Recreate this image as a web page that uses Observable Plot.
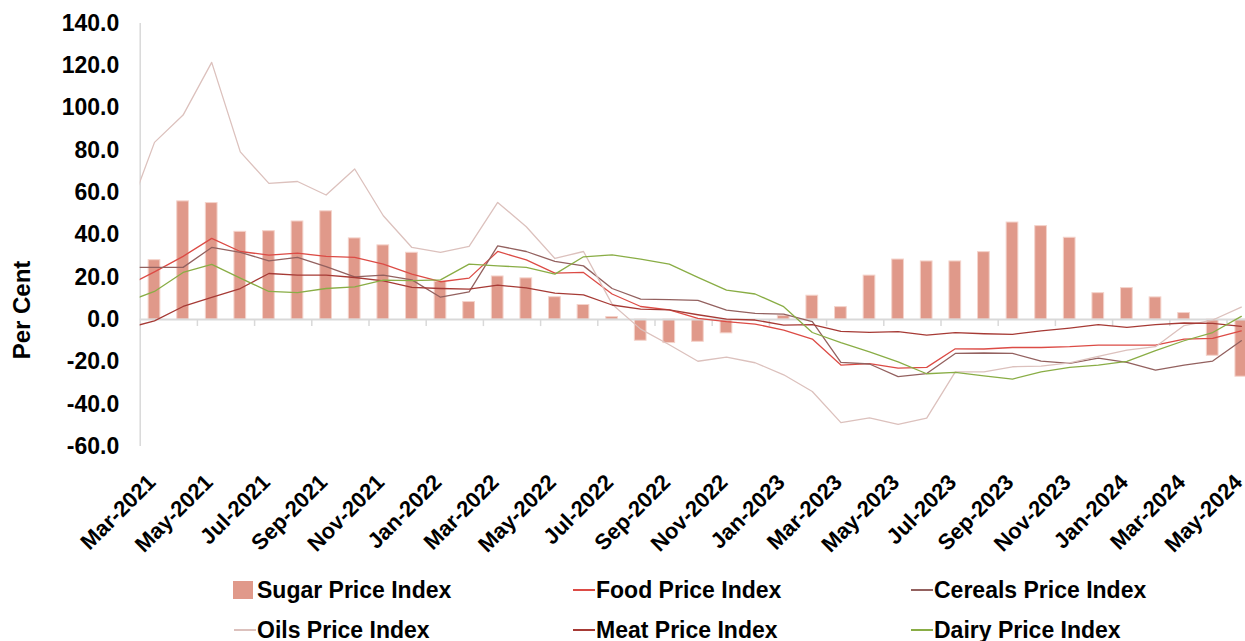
<!DOCTYPE html>
<html><head><meta charset="utf-8">
<script src="https://cdn.jsdelivr.net/npm/d3@7"></script>
<script src="https://cdn.jsdelivr.net/npm/@observablehq/plot@0.6"></script>
<style>
html,body{margin:0;padding:0;background:#fff;overflow:hidden}
#wrap{position:relative;width:1245px;height:641px;font-family:"Liberation Sans",Arial,sans-serif;font-weight:bold;color:#000}
#chart{position:absolute;left:0;top:0}
.lg{position:absolute;font-size:23px;line-height:26px;white-space:nowrap}
.sw{position:absolute}
#ytitle{position:absolute;font-size:24px;white-space:nowrap;transform:translate(-50%,-50%) rotate(-90deg)}
</style></head><body>
<div id="wrap"><div id="chart"></div>
<div id="ytitle" style="left:22px;top:310px">Per Cent</div>
<div id="legend"></div>
</div>
<script>
const months = ["Feb-2021","Mar-2021","Apr-2021","May-2021","Jun-2021","Jul-2021","Aug-2021","Sep-2021","Oct-2021","Nov-2021","Dec-2021","Jan-2022","Feb-2022","Mar-2022","Apr-2022","May-2022","Jun-2022","Jul-2022","Aug-2022","Sep-2022","Oct-2022","Nov-2022","Dec-2022","Jan-2023","Feb-2023","Mar-2023","Apr-2023","May-2023","Jun-2023","Jul-2023","Aug-2023","Sep-2023","Oct-2023","Nov-2023","Dec-2023","Jan-2024","Feb-2024","Mar-2024","Apr-2024","May-2024"];
const sugar = [null, 28.1, 55.9, 55.1, 41.5, 41.8, 46.4, 51.2, 38.4, 35.1, 31.6, 17.9, 8.3, 20.4, 19.5, 10.6, 6.9, 1.2, -10.0, -11.1, -10.5, -6.5, 0.0, 1.8, 11.3, 5.9, 20.8, 28.4, 27.5, 27.5, 31.9, 45.9, 44.2, 38.7, 12.5, 14.9, 10.5, 3.1, -17.1, -27.0];
const food = [15.6, 22.6, 29.9, 38.4, 32.2, 30.5, 31.4, 29.9, 29.4, 26.2, 21.5, 17.9, 19.6, 32.2, 28.2, 22.0, 22.3, 12.1, 6.2, 4.6, 0.6, -1.0, -2.1, -5.0, -9.2, -21.5, -20.8, -22.9, -22.6, -13.8, -13.9, -13.2, -13.2, -12.8, -12.1, -12.1, -12.1, -9.2, -8.9, -5.3];
const cereals = [24.7, 24.7, 24.7, 34.1, 31.8, 27.8, 29.4, 25.0, 20.2, 21.0, 18.8, 10.6, 13.1, 34.9, 32.2, 27.5, 25.4, 14.7, 9.7, 9.4, 9.1, 4.5, 2.9, 2.6, -1.0, -20.2, -21.0, -27.0, -25.5, -16.0, -15.8, -16.0, -19.6, -20.7, -18.2, -20.2, -23.9, -21.5, -19.6, -10.0];
const oils = [47.4, 83.8, 96.7, 121.6, 79.3, 64.4, 65.3, 58.9, 71.2, 49.1, 34.1, 31.8, 34.6, 55.4, 43.9, 28.9, 32.2, 7.3, -4.5, -11.9, -19.7, -17.7, -20.4, -26.1, -34.0, -48.7, -46.5, -49.5, -46.6, -24.7, -24.7, -22.3, -22.0, -20.5, -17.4, -14.4, -12.8, -2.8, -0.2, 5.9];
const meat = [-4.2, -0.6, 6.2, 10.5, 14.7, 21.8, 21.0, 21.0, 19.9, 18.3, 15.2, 14.7, 14.4, 16.3, 15.0, 12.5, 11.7, 6.9, 5.0, 4.6, 2.3, 0.2, -0.2, -2.6, -2.4, -5.6, -6.0, -5.7, -7.3, -6.2, -6.7, -7.0, -5.3, -4.0, -2.4, -3.7, -2.4, -1.6, -1.8, -3.2];
const dairy = [8.3, 13.3, 22.3, 26.1, 19.6, 13.3, 12.8, 14.7, 15.5, 18.7, 18.4, 18.8, 26.2, 25.4, 24.7, 21.5, 29.7, 30.6, 28.6, 26.2, 20.0, 13.9, 12.1, 6.1, -6.1, -10.9, -15.3, -20.0, -25.6, -25.0, -26.6, -28.1, -24.7, -22.6, -21.5, -19.8, -14.7, -10.0, -6.1, 1.5];
const yTicks = [-60, -40, -20, 0, 20, 40, 60, 80, 100, 120, 140];

const seriesNames = ["Sugar Price Index","Food Price Index","Cereals Price Index","Oils Price Index","Meat Price Index","Dairy Price Index"];
const colors = {sugar:"#e0998a", food:"#dc4b45", cereals:"#93615f", oils:"#dcc1bd", meat:"#a63a35", dairy:"#89ad45"};

const rows = months.map((m, k) => ({k, month: m, sugar: sugar[k], food: food[k], cereals: cereals[k], oils: oils[k], meat: meat[k], dairy: dairy[k]}));
const barRows = rows.filter(d => d.sugar != null);
const labelRows = rows.filter(d => d.k % 2 === 1);
const tickRows = rows.filter(d => d.k % 2 === 0 && d.k > 0).map(d => ({t: d.k + 0.5}));

const lineKeys = ["food","cereals","oils","meat","dairy"];

const plot = Plot.plot({
  width: 1245, height: 560,
  marginLeft: 139.7, marginRight: 0, marginTop: 23, marginBottom: 114,
  x: {type: "linear", domain: [0.5, 39.147], axis: null},
  y: {domain: [-60, 140]},
  style: {fontFamily: "'Liberation Sans', Arial, sans-serif", fontWeight: "bold", color: "#000", background: "#fff", overflow: "visible"},
  marks: [
    Plot.ruleX([0.5], {y1: -60, y2: 140, stroke: "#d9d9d9", strokeWidth: 1.5}),
    Plot.rect(barRows, {x1: d => d.k - 0.205, x2: d => d.k + 0.205, y1: 0, y2: "sugar", fill: colors.sugar, stroke: "#f4d3cb", strokeWidth: 1, clip: true}),
    Plot.ruleY([0], {stroke: "#d9d9d9", strokeWidth: 2}),
    Plot.ruleX(tickRows, {x: "t", y1: 0, y2: -3.3, stroke: "#d9d9d9", strokeWidth: 1.5, clip: true}),
    ...lineKeys.map(key => Plot.line(rows, {x: "k", y: key, stroke: colors[key], strokeWidth: 1.3, clip: true})),
    Plot.axisY({ticks: yTicks, tickFormat: d => d.toFixed(1), tickSize: 0, tickPadding: 21, fontSize: 23, label: null}),
    Plot.text(labelRows, {x: "k", frameAnchor: "bottom", text: "month", rotate: -45, textAnchor: "end", lineAnchor: "middle", dx: -2.5, dy: 32, fontSize: 22, fill: "#000"})
  ]
});
document.getElementById("chart").appendChild(plot);

const legend = document.getElementById("legend");
const cols = [233, 572, 910];
const rowsY = [590, 630];
const keys = ["sugar","food","cereals","oils","meat","dairy"];
keys.forEach((key, i) => {
  const cx = cols[i % 3], cy = rowsY[Math.floor(i / 3)];
  const sw = document.createElement("div");
  sw.className = "sw";
  if (key === "sugar") {
    Object.assign(sw.style, {left: cx + "px", top: (cy - 9) + "px", width: "20px", height: "18px", background: colors.sugar});
  } else {
    Object.assign(sw.style, {left: (cx + 1) + "px", top: (cy - 1) + "px", width: "22px", height: "2px", background: colors[key]});
  }
  legend.appendChild(sw);
  const t = document.createElement("div");
  t.className = "lg";
  t.textContent = seriesNames[i];
  Object.assign(t.style, {left: (cx + 24) + "px", top: (cy - 13) + "px"});
  legend.appendChild(t);
});
</script>
</body></html>
